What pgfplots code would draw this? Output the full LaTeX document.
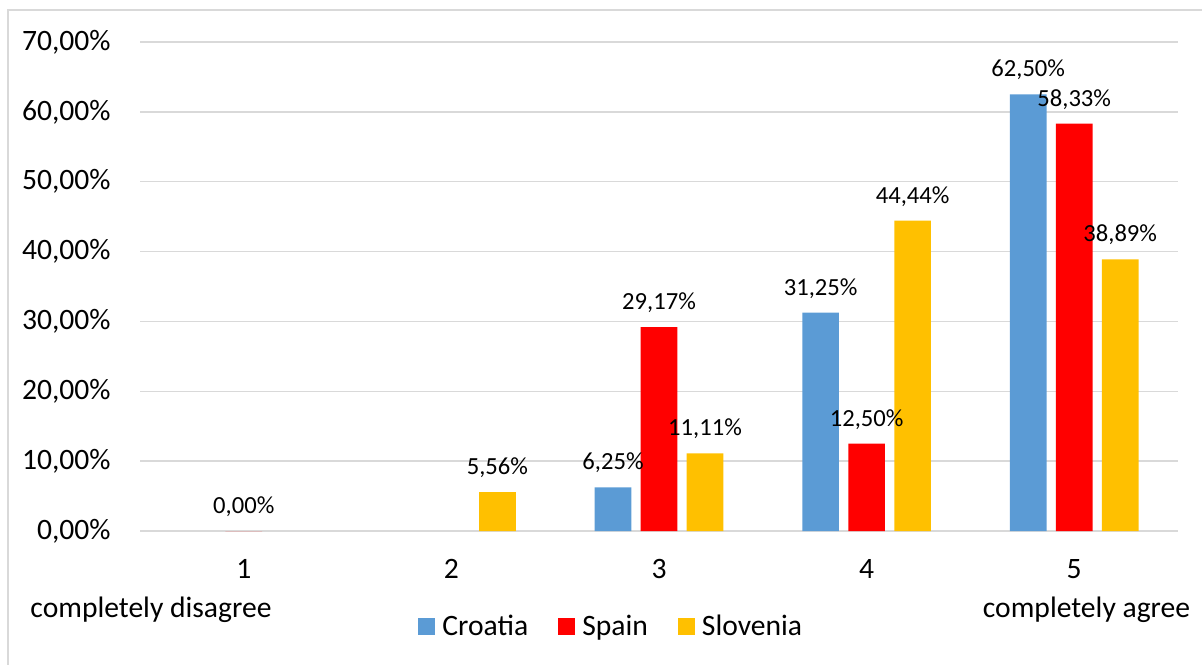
\documentclass[border=0pt]{standalone}
\usepackage{pgfplots}
\pgfplotsset{compat=1.18}
\usepackage{fontspec}
\setmainfont{Carlito}
\definecolor{cro}{HTML}{5B9BD5}
\definecolor{spa}{HTML}{FF0000}
\definecolor{slo}{HTML}{FFC000}
\definecolor{gridc}{HTML}{D9D9D9}
\begin{document}
\begin{tikzpicture}[x=1pt,y=1pt]
\useasboundingbox (0,0) rectangle (601,332);
\draw[gridc, line width=1pt] (4,-10) -- (4,327) -- (620,327);
\begin{axis}[
  at={(70pt,66.5pt)}, anchor=south west,
  scale only axis, width=519pt, height=244.5pt,
  xmin=0.5, xmax=5.5, ymin=0, ymax=70,
  clip=false,
  ybar=4.65pt, bar width=18.35pt,
  xtick={1,2,3,4,5}, ytick={0,10,...,70},
  major tick length=0pt,
  axis line style={draw=none},
  ymajorgrids, grid style={gridc, line width=0.75pt},
  /pgf/number format/assume math mode=true,
  yticklabel={\pgfmathprintnumber[fixed,fixed zerofill,precision=2,use comma]{\tick}\%},
  yticklabel style={font=\fontsize{14.8}{17}\selectfont, anchor=east, inner sep=0pt, xshift=-14.5pt},
  xticklabel style={font=\fontsize{14.8}{17}\selectfont, anchor=north, inner sep=0pt, yshift=-14pt},
  nodes near coords={\pgfmathprintnumber[fixed,fixed zerofill,precision=2,use comma,assume math mode=true]{\pgfplotspointmeta}\%},
  nodes near coords style={font=\fontsize{12.3}{14}\selectfont, anchor=base, inner sep=0pt, yshift=8.75pt, text=black},
  legend style={at={(0.455,-0.196)}, anchor=center, legend columns=3, draw=none, fill=none,
    font=\fontsize{14.8}{17}\selectfont,
    /tikz/every odd column/.style={column sep=1.5pt},
    /tikz/every even column/.style={column sep=13pt}},
  legend image code/.code={\fill[#1,draw=none] (0pt,-4.25pt) rectangle (8.5pt,4.25pt);},
]
\addplot[fill=cro, draw=none, legend image code/.code={\fill[cro] (0pt,-4.25pt) rectangle (8.5pt,4.25pt);}] coordinates {(3,6.25) (4,31.25) (5,62.50)};
\addlegendentry{Croatia}
\addplot[fill=spa, draw=none, legend image code/.code={\fill[spa] (0pt,-4.25pt) rectangle (8.5pt,4.25pt);}] coordinates {(1,0) (3,29.17) (4,12.50) (5,58.33)};
\addlegendentry{Spain}
\addplot[fill=slo, draw=none, legend image code/.code={\fill[slo] (0pt,-4.25pt) rectangle (8.5pt,4.25pt);}] coordinates {(2,5.56) (3,11.11) (4,44.44) (5,38.89)};
\addlegendentry{Slovenia}
\end{axis}
\node[font=\fontsize{14.8}{17}\selectfont, anchor=base, inner sep=0pt] at (75.5,23.5) {completely disagree};
\node[font=\fontsize{14.8}{17}\selectfont, anchor=base, inner sep=0pt] at (543.25,23.5) {completely agree};
\end{tikzpicture}
\end{document}
